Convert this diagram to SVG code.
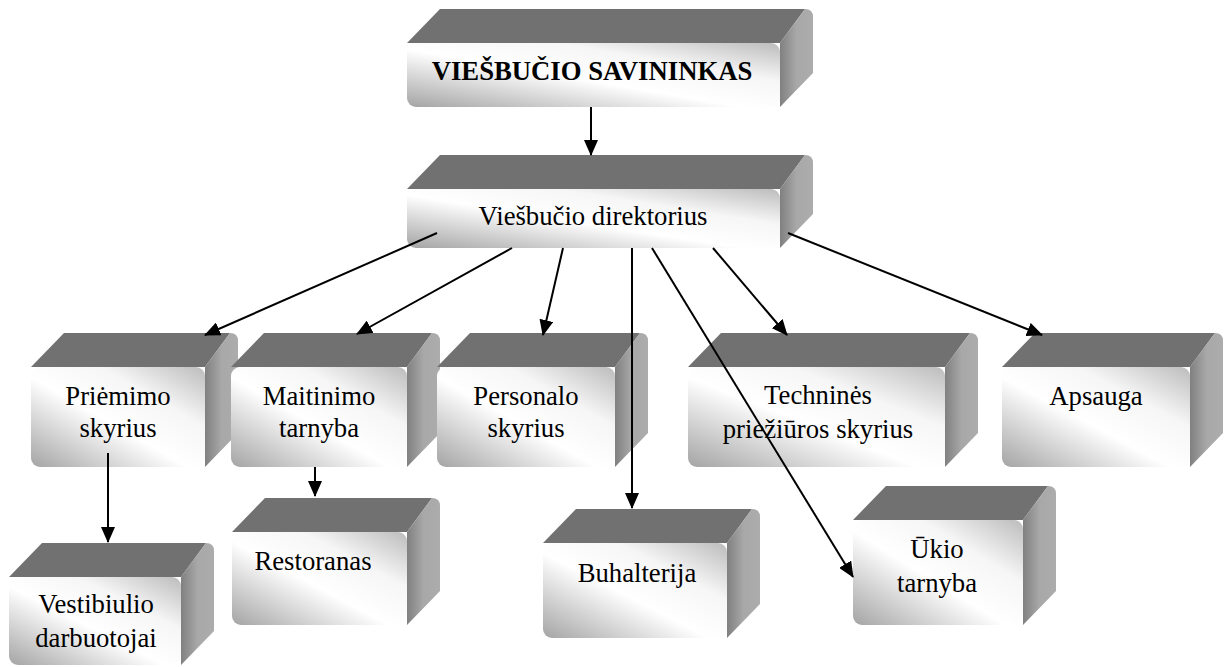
<svg xmlns="http://www.w3.org/2000/svg" width="1226" height="667" viewBox="0 0 1226 667">
  <defs>
    <!-- shaded front face of each block -->
    <linearGradient id="gFront" x1="0" y1="1" x2="1" y2="0">
      <stop offset="0" stop-color="#a4a4a4"/>
      <stop offset="0.45" stop-color="#ffffff"/>
      <stop offset="0.7" stop-color="#f6f6f6"/>
      <stop offset="1" stop-color="#bcbcbc"/>
    </linearGradient>
    <!-- side face: dark at the seam, lighter outward -->
    <linearGradient id="gSide" x1="0" y1="0" x2="1" y2="0">
      <stop offset="0" stop-color="#808080"/>
      <stop offset="0.5" stop-color="#a8a8a8"/>
      <stop offset="1" stop-color="#acacac"/>
    </linearGradient>
    <marker id="arrow" markerUnits="userSpaceOnUse" viewBox="0 0 16 14" refX="15" refY="7" markerWidth="16" markerHeight="14" orient="auto">
      <path d="M0,0 L16,7 L0,14 Z" fill="#000"/>
    </marker>
  </defs>
  <style>
    .top { fill: #717171; }
    .side { fill: url(#gSide); }
    .front { fill: url(#gFront); }
    .label { font-family: "Liberation Serif", "Times New Roman", serif; font-size: 26.7px; fill: #000; text-anchor: middle; }
    .bold { font-weight: bold; }
    .link { stroke: #000; stroke-width: 2; fill: none; marker-end: url(#arrow); }
  </style>

  <rect width="1226" height="667" fill="#ffffff"/>

  <g id="owner">
    <path class="top" d="M407,43 L440,9 L805,9 L780,43 Z"/>
    <path class="side" d="M780,43 L805,9 Q813,9 813,17 L813,73 L780,107 Z"/>
    <rect class="front" x="407" y="43" width="373" height="64" rx="9"/>
    <text class="label bold" x="592" y="80">VIEŠBUČIO SAVININKAS</text>
  </g>

  <g id="director">
    <path class="top" d="M407,189 L440,155 L805,155 L780,189 Z"/>
    <path class="side" d="M780,189 L805,155 Q813,155 813,163 L813,214 L780,248 Z"/>
    <rect class="front" x="407" y="189" width="373" height="59" rx="9"/>
    <text class="label" x="593" y="225">Viešbučio direktorius</text>
  </g>

  <g id="reception">
    <path class="top" d="M31,367 L64,333 L230,333 L205,367 Z"/>
    <path class="side" d="M205,367 L230,333 Q238,333 238,341 L238,433 L205,467 Z"/>
    <rect class="front" x="31" y="367" width="174" height="100" rx="9"/>
    <text class="label" x="118" y="405">Priėmimo</text>
    <text class="label" x="118" y="437">skyrius</text>
  </g>

  <g id="catering">
    <path class="top" d="M231,367 L264,333 L432,333 L407,367 Z"/>
    <path class="side" d="M407,367 L432,333 Q440,333 440,341 L440,433 L407,467 Z"/>
    <rect class="front" x="231" y="367" width="176" height="100" rx="9"/>
    <text class="label" x="319" y="405">Maitinimo</text>
    <text class="label" x="319" y="437">tarnyba</text>
  </g>

  <g id="personnel">
    <path class="top" d="M437,367 L470,333 L640,333 L615,367 Z"/>
    <path class="side" d="M615,367 L640,333 Q648,333 648,341 L648,433 L615,467 Z"/>
    <rect class="front" x="437" y="367" width="178" height="100" rx="9"/>
    <text class="label" x="526" y="405">Personalo</text>
    <text class="label" x="526" y="437">skyrius</text>
  </g>

  <g id="maintenance">
    <path class="top" d="M688,367 L721,333 L970,333 L945,367 Z"/>
    <path class="side" d="M945,367 L970,333 Q978,333 978,341 L978,433 L945,467 Z"/>
    <rect class="front" x="688" y="367" width="257" height="100" rx="9"/>
    <text class="label" x="818" y="404">Techninės</text>
    <text class="label" x="818" y="438">priežiūros skyrius</text>
  </g>

  <g id="security">
    <path class="top" d="M1002,367 L1035,333 L1215,333 L1190,367 Z"/>
    <path class="side" d="M1190,367 L1215,333 Q1223,333 1223,341 L1223,433 L1190,467 Z"/>
    <rect class="front" x="1002" y="367" width="188" height="100" rx="9"/>
    <text class="label" x="1096" y="405">Apsauga</text>
  </g>

  <g id="lobby">
    <path class="top" d="M9,577 L42,543 L206,543 L181,577 Z"/>
    <path class="side" d="M181,577 L206,543 Q214,543 214,551 L214,631 L181,665 Z"/>
    <rect class="front" x="9" y="577" width="172" height="88" rx="9"/>
    <text class="label" x="96" y="613">Vestibiulio</text>
    <text class="label" x="96" y="647">darbuotojai</text>
  </g>

  <g id="restaurant">
    <path class="top" d="M232,532 L265,498 L432,498 L407,532 Z"/>
    <path class="side" d="M407,532 L432,498 Q440,498 440,506 L440,591 L407,625 Z"/>
    <rect class="front" x="232" y="532" width="175" height="93" rx="9"/>
    <text class="label" x="313" y="570">Restoranas</text>
  </g>

  <g id="accounting">
    <path class="top" d="M543,543 L576,509 L752,509 L727,543 Z"/>
    <path class="side" d="M727,543 L752,509 Q760,509 760,517 L760,604 L727,638 Z"/>
    <rect class="front" x="543" y="543" width="184" height="95" rx="9"/>
    <text class="label" x="637" y="582">Buhalterija</text>
  </g>

  <g id="housekeeping">
    <path class="top" d="M853,520 L886,486 L1048,486 L1023,520 Z"/>
    <path class="side" d="M1023,520 L1048,486 Q1056,486 1056,494 L1056,591 L1023,625 Z"/>
    <rect class="front" x="853" y="520" width="170" height="105" rx="9"/>
    <text class="label" x="937" y="558">Ūkio</text>
    <text class="label" x="937" y="592">tarnyba</text>
  </g>

  <g id="connectors">
    <path class="link" d="M591,107 L591,155"/>
    <path class="link" d="M437,233 L205,335"/>
    <path class="link" d="M512,248 L357,334"/>
    <path class="link" d="M563,248 L543,335"/>
    <path class="link" d="M632,248 L632,508"/>
    <path class="link" d="M652,248 L853,577"/>
    <path class="link" d="M713,248 L787,335"/>
    <path class="link" d="M788,233 L1042,335"/>
    <path class="link" d="M108,453 L108,542"/>
    <path class="link" d="M315,467 L315,496"/>
  </g>
</svg>
